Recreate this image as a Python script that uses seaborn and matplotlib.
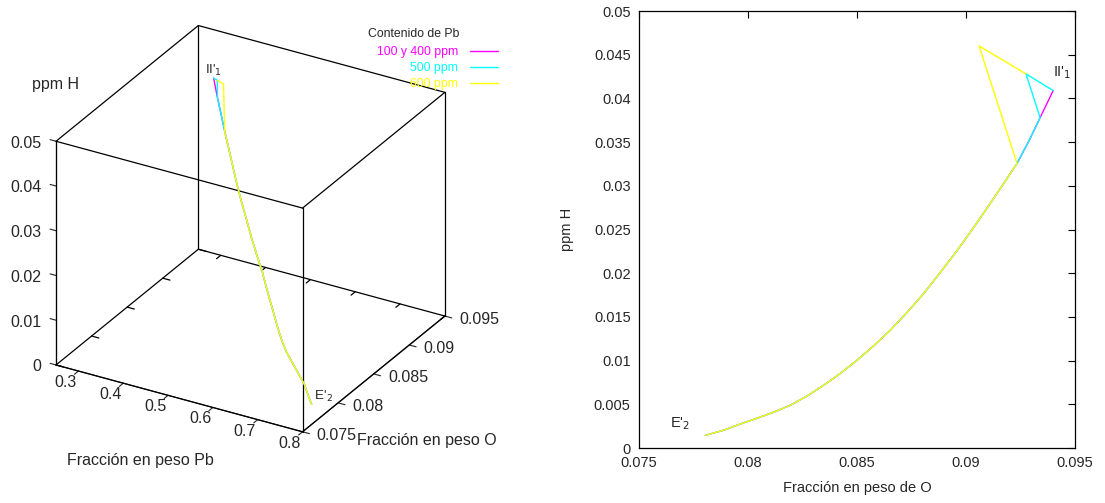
import pandas as pd
import matplotlib
matplotlib.use('Agg')
import matplotlib.pyplot as plt
from matplotlib.ticker import FuncFormatter
import seaborn as sns

sns.set_style('white')
plt.rcParams['font.family'] = ['Liberation Sans', 'DejaVu Sans']

# tramo comun de las tres curvas (desde E'2 hacia arriba)
o_comun = [0.07804, 0.07888, 0.07965, 0.08041, 0.08117, 0.08194, 0.08271, 0.08347, 0.08423, 0.08500,
           0.08576, 0.08653, 0.08729, 0.08806, 0.08882, 0.08959, 0.09035, 0.09111, 0.09173, 0.09234]
h_comun = [0.00145, 0.00203, 0.00275, 0.00340, 0.00409, 0.00489, 0.00595, 0.00718, 0.00852, 0.01004,
           0.01168, 0.01348, 0.01550, 0.01768, 0.02008, 0.02258, 0.02523, 0.02798, 0.03027, 0.03256]
pb_comun = [0.772, 0.750, 0.730, 0.705, 0.680, 0.654, 0.631, 0.610, 0.590, 0.569,
            0.548, 0.527, 0.503, 0.479, 0.456, 0.432, 0.409, 0.387, 0.369, 0.351]

# final de cada serie
o_400 = [0.0929, 0.0934, 0.0940]
h_400 = [0.0352, 0.0378, 0.0409]
pb_400 = [0.334, 0.318, 0.300]

o_500 = [0.0929, 0.0934, 0.09275, 0.0940]
h_500 = [0.0352, 0.0378, 0.0428, 0.0409]
pb_500 = [0.334, 0.318, 0.328, 0.300]

o_600 = [0.0906, 0.09275]
h_600 = [0.0460, 0.0428]
pb_600 = [0.376, 0.328]

series = ['100 y 400 ppm', '500 ppm', '600 ppm']
colores = ['#ff00ff', '#00ffff', '#ffff00']

pb_lim = [0.25, 0.8]
o_lim = [0.075, 0.095]
h_lim = [0.0, 0.05]
pb_ticks = [0.3, 0.4, 0.5, 0.6, 0.7, 0.8]
o_ticks = [0.075, 0.08, 0.085, 0.09, 0.095]
h3_ticks = [0, 0.01, 0.02, 0.03, 0.04, 0.05]

frames = []
for nombre, o, h, pb in zip(series, [o_400, o_500, o_600], [h_400, h_500, h_600], [pb_400, pb_500, pb_600]):
    frames.append(pd.DataFrame({'O': o_comun + o, 'H': h_comun + h, 'Pb': pb_comun + pb, 'serie': nombre}))
df = pd.concat(frames, ignore_index=True)

fmt = FuncFormatter(lambda v, p: '%g' % round(v, 6))

fig = plt.figure(figsize=(11.05, 5.03), dpi=100)

# ---- grafico 3D ----
ax = fig.add_axes([0.007, 0.074, 0.428, 0.918], projection='3d', proj_type='ortho')
ax.view_init(elev=28, azim=-60)
ax.set_box_aspect((1, 1, 0.89))
ax.set_xlim(pb_lim)
ax.set_ylim(o_lim)
ax.set_zlim(h_lim)
ax.grid(False)
for a in (ax.xaxis, ax.yaxis, ax.zaxis):
    a.pane.fill = False
    a.pane.set_edgecolor('none')
    a.set_major_formatter(fmt)
    a.label.set_visible(False)
    a.offsetText.set_visible(False)
    a._axinfo['tick']['inward_factor'] = 0.35
    a._axinfo['tick']['outward_factor'] = 0.0
# eje z a la izquierda, marcas hacia dentro como en gnuplot
ax.zaxis.set_ticks_position('lower')
ax.zaxis._get_tickdir = lambda position: 0
ax.zaxis._axinfo['tick']['inward_factor'] = 0.0
ax.zaxis._axinfo['tick']['outward_factor'] = 0.3
ax.yaxis._axmask = lambda: [True, False, False]
ax.set_xticks(pb_ticks)
ax.set_yticks(o_ticks)
ax.set_zticks(h3_ticks)
ax.tick_params(labelsize=11.5)
ax.xaxis.set_tick_params(pad=-6)
ax.yaxis.set_tick_params(pad=2)
ax.zaxis.set_tick_params(pad=-1.5)

# caja completa
for x0 in pb_lim:
    for y0 in o_lim:
        ax.plot([x0, x0], [y0, y0], h_lim, color='black', lw=0.9)
for x0 in pb_lim:
    for z0 in h_lim:
        ax.plot([x0, x0], o_lim, [z0, z0], color='black', lw=0.9)
for y0 in o_lim:
    for z0 in h_lim:
        ax.plot(pb_lim, [y0, y0], [z0, z0], color='black', lw=0.9)
# marcas espejo en la base
dy = 0.35 * (o_lim[1] - o_lim[0]) / 12
dx = 0.35 * (pb_lim[1] - pb_lim[0]) / 12
for t in pb_ticks:
    ax.plot([t, t], [o_lim[1], o_lim[1] - dy], [0, 0], color='black', lw=0.9)
for t in o_ticks:
    ax.plot([pb_lim[0], pb_lim[0] + dx], [t, t], [0, 0], color='black', lw=0.9)

handles = []
for nombre, color in zip(series, colores):
    d = df[df['serie'] == nombre]
    ln, = ax.plot(d['Pb'], d['O'], d['H'], color=color, lw=1)
    handles.append(ln)

ax.text(0.30, 0.094, 0.0409, "II'$_1$", ha='center', va='bottom', fontsize=9.5)
ax.text(0.772, 0.078, 0.0015, " E'$_2$", ha='left', va='bottom', fontsize=9.5)

fig.text(56 / 1105, 1 - 85 / 503, 'ppm H', ha='center', va='center', fontsize=11.5)
fig.text(140 / 1105, 1 - 460 / 503, 'Fracción en peso Pb', ha='center', va='center', fontsize=11.5)
fig.text(427 / 1105, 1 - 440 / 503, 'Fracción en peso O', ha='center', va='center', fontsize=11.5)

fig.text(459 / 1105, 1 - 34 / 503, 'Contenido de Pb', ha='right', va='center', fontsize=8.8)
fig.legend(handles, series, loc='upper right',
           bbox_to_anchor=(498 / 1105, 1 - 46 / 503), frameon=False, markerfirst=False,
           labelcolor=colores, fontsize=8.8, handlelength=2.3, handletextpad=0.95,
           labelspacing=0.33, borderpad=0, borderaxespad=0)

# ---- grafico 2D ----
ax2 = fig.add_axes([639 / 1105, 1 - 448 / 503, 436 / 1105, 437 / 503])
sns.lineplot(data=df, x='O', y='H', hue='serie', palette=colores, sort=False,
             estimator=None, legend=False, linewidth=1, ax=ax2)
ax2.set_xlim(o_lim)
ax2.set_ylim(h_lim)
ax2.set_xticks(o_ticks)
ax2.set_yticks([0, 0.005, 0.01, 0.015, 0.02, 0.025, 0.03, 0.035, 0.04, 0.045, 0.05])
ax2.xaxis.set_major_formatter(fmt)
ax2.yaxis.set_major_formatter(fmt)
ax2.xaxis.offsetText.set_visible(False)
ax2.yaxis.offsetText.set_visible(False)
ax2.tick_params(direction='in', top=True, right=True, length=5, width=0.8,
                labelsize=10.5, color='black', pad=6)
for s in ax2.spines.values():
    s.set_color('black')
    s.set_linewidth(0.9)
ax2.set_xlabel('Fracción en peso de O', fontsize=10.5, labelpad=8)
ax2.set_ylabel('ppm H', fontsize=10.5, labelpad=14)
ax2.text(0.09399, 0.0425, "II'$_1$", fontsize=10.5, va='baseline')
ax2.text(0.07642, 0.0024, "E'$_2$", fontsize=10.5, va='baseline')

# alineacion de las etiquetas del 3D
for t in ax.xaxis.get_major_ticks():
    t.label1.set_ha('right')
    t.label1.set_va('top')
for t in ax.yaxis.get_major_ticks():
    t.label1.set_ha('left')
    t.label1.set_va('center')
for t in ax.zaxis.get_major_ticks():
    t.label1.set_ha('right')
    t.label1.set_va('center')

fig.savefig('out.png', dpi=100)
